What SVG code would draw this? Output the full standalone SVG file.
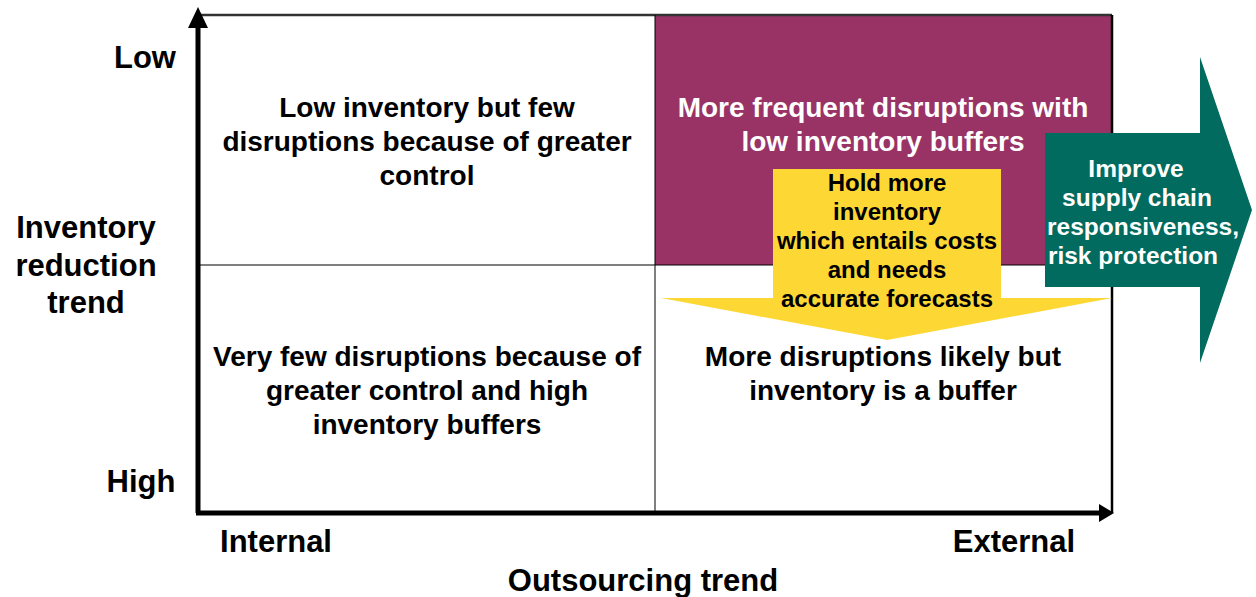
<svg xmlns="http://www.w3.org/2000/svg" width="1256" height="597" viewBox="0 0 1256 597">
<style>
text{font-family:"Liberation Sans",Arial,sans-serif;font-weight:bold;text-anchor:middle}
.q{font-size:28px;fill:#000}
.w{fill:#fff}
.ax{font-size:31px;fill:#000}
.s{font-size:24px}
.g{font-size:24.5px}
</style>
<rect width="1256" height="597" fill="#fff"/>
<g id="quadrant-tr"><rect x="655" y="15" width="456" height="250" fill="#993366"/>
<text class="q w" x="883" y="117">More frequent disruptions with</text>
<text class="q w" x="883" y="151">low inventory buffers</text></g>
<g id="grid" stroke="#000" fill="none">
<line x1="198" y1="15" x2="1112" y2="15" stroke="#333" stroke-width="2.5"/>
<line x1="1112" y1="15" x2="1112" y2="513" stroke-width="2.5"/>
<line x1="655" y1="15" x2="655" y2="513" stroke-width="1"/>
<line x1="198" y1="265" x2="1112" y2="265" stroke-width="1"/>
</g>
<g id="quadrant-tl"><text class="q" x="427" y="117">Low inventory but few</text>
<text class="q" x="427" y="151">disruptions because of greater</text>
<text class="q" x="427" y="185">control</text></g>
<g id="quadrant-bl"><text class="q" x="427" y="366">Very few disruptions because of</text>
<text class="q" x="427" y="400">greater control and high</text>
<text class="q" x="427" y="434">inventory buffers</text></g>
<g id="quadrant-br"><text class="q" x="883" y="366">More disruptions likely but</text>
<text class="q" x="883" y="400">inventory is a buffer</text></g>
<g id="hold-arrow"><polygon points="773,169 1001,169 1001,298 1112,298 887,340 661,298 773,298" fill="#fdd835"/>
<text class="s" x="887" y="191">Hold more</text>
<text class="s" x="887" y="220">inventory</text>
<text class="s" x="887" y="249">which entails costs</text>
<text class="s" x="887" y="278">and needs</text>
<text class="s" x="887" y="307">accurate forecasts</text></g>
<g id="improve-arrow"><polygon points="1045,133 1200,133 1200,57 1252,210 1200,363 1200,287 1045,287" fill="#006b5e"/>
<text class="g w" x="1136" y="177">Improve</text>
<text class="g w" x="1137" y="206">supply chain</text>
<text class="g w" x="1143" y="235">responsiveness,</text>
<text class="g w" x="1133" y="264">risk protection</text></g>
<g id="connectors">
<line x1="198" y1="513" x2="198" y2="26" stroke="#000" stroke-width="5"/>
<polygon points="198,7 188,28 208,28" fill="#000"/>
<line x1="196" y1="513" x2="1100" y2="513" stroke="#000" stroke-width="5"/>
<polygon points="1114,513 1099,504 1099,522" fill="#000"/>
</g>
<g id="axis-labels">
<text class="ax" x="145" y="68">Low</text>
<text class="ax" x="141" y="492">High</text>
<text class="ax" x="86" y="238">Inventory</text>
<text class="ax" x="86" y="276">reduction</text>
<text class="ax" x="86" y="313">trend</text>
<text class="ax" x="276" y="552">Internal</text>
<text class="ax" x="1014" y="552">External</text>
<text class="ax" x="643" y="591">Outsourcing trend</text>
</g>
</svg>
